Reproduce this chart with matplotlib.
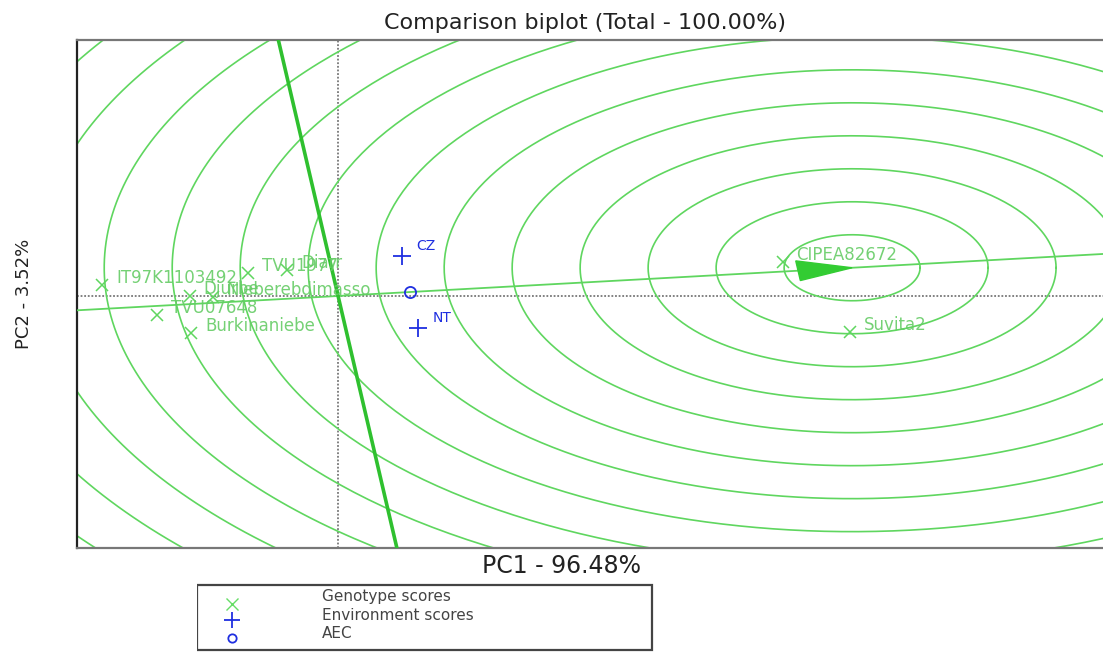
# GGE comparison biplot: genotipos (x), ambientes (+), AEC (o) y circulos
# concentricos alrededor del genotipo ideal.
import numpy as np
import matplotlib
matplotlib.use("Agg")
import matplotlib.pyplot as plt
from matplotlib.patches import Polygon, Rectangle

plt.rcParams["font.family"] = ["DejaVu Sans"]

# ── datos (PC1, PC2) ─────────────────────────────────────────────────────────
genotipos = ["IT97K1103492", "Djurbe", "Nieberebdimasso", "TVU07648", "Burkinaniebe",
             "TVU1977", "Diarr", "CIPEA82672", "Suvita2"]
gen_pc1 = [-3.47, -2.18, -1.84, -2.66, -2.16, -1.32, -0.75, 6.54, 7.53]
gen_pc2 = [0.33, 0.00, -0.03, -0.58, -1.12, 0.70, 0.79, 1.03, -1.09]

ambientes = ["CZ", "NT"]
amb_pc1 = [0.94, 1.18]
amb_pc2 = [1.21, -0.97]

titulo = "Comparison biplot (Total - 100.00%)"
eje_x = "PC1 - 96.48%"
eje_y = "PC2 - 3.52%"

VERDE = "#5fd65f"
VERDE_T = "#66cc66"
AZUL = "#1f2fe0"

W, H = 1103, 652
fig = plt.figure(figsize=(W / 100, H / 100), dpi=100)
# ejes en pixeles: x 77..1105, y 40..548
ax = fig.add_axes([77 / W, 1 - 548 / H, (1105 - 77) / W, (548 - 40) / H])

G = np.column_stack([gen_pc1, gen_pc2])
E = np.column_stack([amb_pc1, amb_pc2])

# AEC y genotipo ideal
aec = E.mean(axis=0)
u = aec / np.linalg.norm(aec)
ideal = u * np.linalg.norm(G, axis=1).max()

xlim = (-3.84, 11.28)
ylim = (-7.64, 7.76)

# circulos concentricos (en unidades de datos)
th = np.linspace(0, 2 * np.pi, 400)
for r in np.arange(1, 16):
    ax.plot(ideal[0] + r * np.cos(th), ideal[1] + r * np.sin(th), color=VERDE, lw=1.2, zorder=2)

# ejes punteados
ax.axhline(0, color="#777777", lw=1.3, ls=(0, (1, 1)), zorder=1)
ax.axvline(0, color="#777777", lw=1.3, ls=(0, (1, 1)), zorder=1)

# eje AEC y su perpendicular
t = np.array([-20, 20])
ax.plot(t * u[0], t * u[1], color=VERDE, lw=1.3, zorder=3)
n = np.array([-u[1], u[0]])
ax.plot(t * n[0], t * n[1], color="#2fc02f", lw=2.6, zorder=3)

# flecha en el ideal
base = ideal - 0.8 * u
ax.add_patch(Polygon([ideal, base + 0.3 * n, base - 0.3 * n], closed=True,
                     facecolor="#33cc33", edgecolor="#33cc33", zorder=5))

# genotipos
ax.plot(G[:, 0], G[:, 1], "x", color=VERDE, ms=9, mew=1.1, zorder=6)
for nom, x, y in zip(genotipos, gen_pc1, gen_pc2):
    ax.annotate(nom, (x, y), xytext=(10, 5), textcoords="offset points",
                color=VERDE_T, fontsize=12, ha="left", va="center", alpha=0.9, zorder=7)

# ambientes
ax.plot(E[:, 0], E[:, 1], "+", color=AZUL, ms=13, mew=1.3, zorder=6)
for nom, x, y in zip(ambientes, amb_pc1, amb_pc2):
    ax.annotate(nom, (x, y), xytext=(10, 7), textcoords="offset points",
                color=AZUL, fontsize=10, ha="left", va="center", zorder=7)

# punto AEC
ax.plot(aec[0], aec[1], "o", mfc="none", mec=AZUL, ms=8, mew=1.3, zorder=6)

ax.set_xlim(*xlim)
ax.set_ylim(*ylim)
ax.set_xticks([])
ax.set_yticks([])
for lado, sp in ax.spines.items():
    sp.set_edgecolor("#777777")
    sp.set_linewidth(1.6)
ax.spines["left"].set_edgecolor("#222222")
ax.spines["right"].set_visible(False)

ax.set_title(titulo, fontsize=16, color="#222222", x=0.494, y=1.022, pad=0)
ax.set_xlabel(eje_x, fontsize=17, color="#222222")
ax.xaxis.set_label_coords(0.471, -0.012)
ax.set_ylabel(eje_y, fontsize=13, color="#222222")
ax.yaxis.set_label_coords(-0.043, 0.5)

# ── leyenda manual (coordenadas en pixeles) ──────────────────────────────────
lax = fig.add_axes([197 / W, 1 - 660 / H, (656 - 197) / W, (660 - 583) / H])
lax.set_xlim(197, 656)
lax.set_ylim(660, 583)
lax.axis("off")
lax.add_patch(Rectangle((197, 585), 455, 65, fill=False, edgecolor="#444444", lw=1.6))
lax.plot(232, 604, "x", color="#66dd66", ms=8, mew=1.0)
lax.plot(232, 620, "+", color=AZUL, ms=12, mew=1.3)
lax.plot(232, 638, "o", mfc="none", mec=AZUL, ms=6, mew=1.3)
for txt, yy in [("Genotype scores", 597), ("Environment scores", 615), ("AEC", 634)]:
    lax.text(322, yy, txt, fontsize=11, color="#444444", ha="left", va="center")

fig.savefig("out.png", dpi=100, facecolor="white")
